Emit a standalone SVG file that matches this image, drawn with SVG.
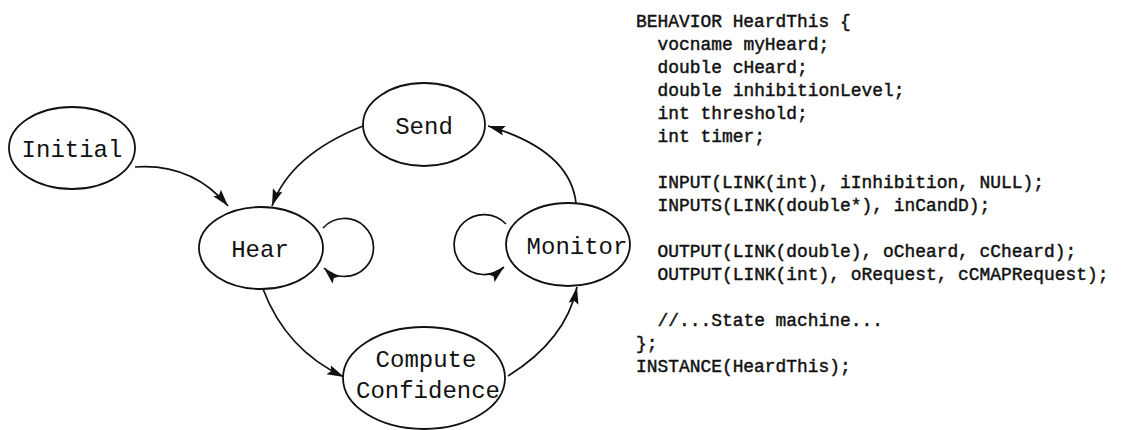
<svg xmlns="http://www.w3.org/2000/svg" width="1141" height="430" viewBox="0 0 1141 430">
  <style>
    .node ellipse { fill: #ffffff; stroke: #111111; stroke-width: 1.8; }
    .node text { font-family: "Liberation Mono", "Courier New", monospace; font-size: 24px; fill: #111111; text-anchor: middle; }
    .edge { fill: none; stroke: #111111; stroke-width: 1.7; marker-end: url(#arrow); }
    .code text { font-family: "Liberation Mono", "Courier New", monospace; font-size: 17.9px; fill: #111111; stroke: #111111; stroke-width: 0.45; white-space: pre; }
  </style>
  <defs>
    <marker id="arrow" markerUnits="userSpaceOnUse" markerWidth="18" markerHeight="12" refX="17" refY="6" orient="auto">
      <path d="M0,1 L17,6 L0,11 L3,6 z" fill="#111111"/>
    </marker>
  </defs>
  <rect width="1141" height="430" fill="#ffffff"/>

  <!-- transitions of the state machine -->
  <g id="connectors">
    <path class="edge" d="M135,167 Q192,163 228,206"/>
    <path class="edge" d="M363,126 Q290,155 272,206"/>
    <path class="edge" d="M576,203 Q570,150 488,126"/>
    <path class="edge" d="M263,289 Q286,350 344,377"/>
    <path class="edge" d="M508,376 Q566,340 577,287"/>
    <path class="edge" d="M323,228 A29 29 0 1 1 324,268"/>
    <path class="edge" d="M506,224 A30 30 0 1 0 504,267"/>
  </g>

  <g id="initial" class="node">
    <ellipse cx="72" cy="148" rx="63" ry="41"/>
    <text x="72" y="157">Initial</text>
  </g>
  <g id="send" class="node">
    <ellipse cx="424" cy="124.5" rx="61" ry="41.5"/>
    <text x="424" y="134">Send</text>
  </g>
  <g id="hear" class="node">
    <ellipse cx="261" cy="248" rx="62" ry="41"/>
    <text x="260" y="257">Hear</text>
  </g>
  <g id="monitor" class="node">
    <ellipse cx="568" cy="244.5" rx="62" ry="41.5"/>
    <text x="577" y="254">Monitor</text>
  </g>
  <g id="compute-confidence" class="node">
    <ellipse cx="424" cy="378" rx="81" ry="51"/>
    <text x="426" y="367">Compute</text>
    <text x="428" y="398">Confidence</text>
  </g>

  <!-- behavior source listing -->
  <g id="code" class="code">
    <text x="636" y="27">BEHAVIOR HeardThis {</text>
    <text x="657.5" y="50">vocname myHeard;</text>
    <text x="657.5" y="73">double cHeard;</text>
    <text x="657.5" y="96">double inhibitionLevel;</text>
    <text x="657.5" y="119">int threshold;</text>
    <text x="657.5" y="142">int timer;</text>
    <text x="657.5" y="188">INPUT(LINK(int), iInhibition, NULL);</text>
    <text x="657.5" y="211">INPUTS(LINK(double*), inCandD);</text>
    <text x="657.5" y="257">OUTPUT(LINK(double), oCheard, cCheard);</text>
    <text x="657.5" y="280">OUTPUT(LINK(int), oRequest, cCMAPRequest);</text>
    <text x="657.5" y="326">//...State machine...</text>
    <text x="636" y="349">};</text>
    <text x="636" y="372">INSTANCE(HeardThis);</text>
  </g>
</svg>
